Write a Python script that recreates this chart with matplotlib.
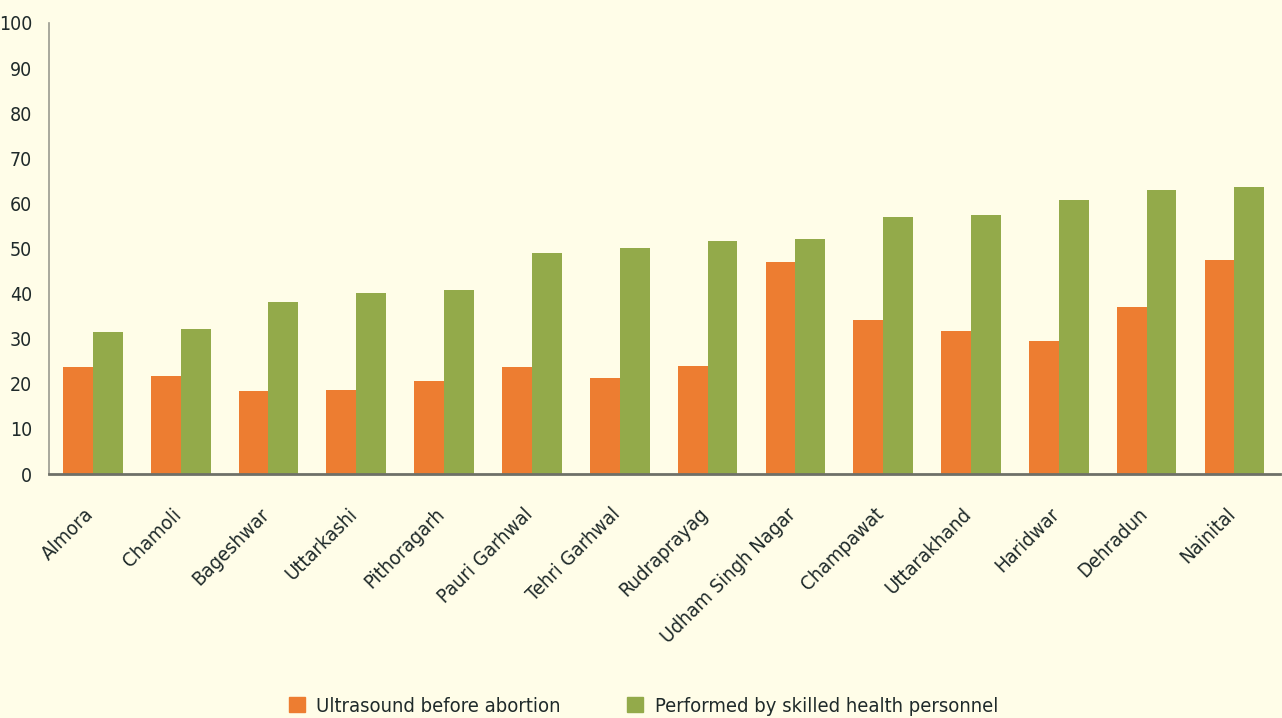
import numpy as np
import matplotlib
matplotlib.use("Agg")
import matplotlib.pyplot as plt
import matplotlib.transforms as mtransforms
from matplotlib import font_manager
from matplotlib.patches import Patch

districts = ["Almora", "Chamoli", "Bageshwar", "Uttarkashi", "Pithoragarh",
             "Pauri Garhwal", "Tehri Garhwal", "Rudraprayag", "Udham Singh Nagar",
             "Champawat", "Uttarakhand", "Haridwar", "Dehradun", "Nainital"]
ultrasound = [23.7, 21.7, 18.4, 18.6, 20.6, 23.7, 21.3, 23.9, 47.0, 34.1, 31.7, 29.5, 37.0, 47.5]
skilled = [31.5, 32.2, 38.1, 40.1, 40.8, 49.0, 50.1, 51.7, 52.1, 57.0, 57.4, 60.8, 63.0, 63.6]
series_names = ["Ultrasound before abortion", "Performed by skilled health personnel"]
yticks = list(range(0, 101, 10))

BG = "#FFFDE8"
ORANGE = "#ED7D31"
GREEN = "#93AA4A"
TEXT = "#1F2A2A"

## pick a narrow font if one is installed, otherwise Liberation Sans
narrow = None
for f in font_manager.fontManager.ttflist:
    n = (f.fname + f.name).lower()
    if ('narrow' in n or 'condensed' in n) and 'bold' not in n and 'oblique' not in n and 'italic' not in n:
        narrow = f
        break
if narrow is not None:
    fname = narrow.fname
    sizes = (14, 14.5, 14.5)
else:
    fname = font_manager.findfont(font_manager.FontProperties(family='Liberation Sans'))
    sizes = (12, 13, 13)

def fprop(size):
    return font_manager.FontProperties(fname=fname, size=size)

fig = plt.figure(figsize=(12.82, 7.18), dpi=100, facecolor=BG)
ax = fig.add_axes([0.0382, 0.3398, 0.9603, 0.6282], facecolor=BG)

x = np.arange(len(districts))
w = 0.34
ax.bar(x - w / 2, ultrasound, w, color=ORANGE, zorder=2)
ax.bar(x + w / 2, skilled, w, color=GREEN, zorder=2)

ax.set_xlim(-0.5, len(districts) - 0.48)
ax.set_ylim(0, 100)
ax.set_yticks(yticks)
ax.set_yticklabels([str(t) for t in yticks], fontproperties=fprop(sizes[0]), color=TEXT)
ax.set_xticks(x)
ax.set_xticklabels(districts, rotation=45, ha='right', rotation_mode='anchor',
                   fontproperties=fprop(sizes[1]), color=TEXT)
ax.tick_params(axis='both', length=0)
ax.tick_params(axis='y', pad=12)
ax.tick_params(axis='x', pad=22)
shift = mtransforms.ScaledTranslation(-9 / 100, 0, fig.dpi_scale_trans)
for lab in ax.get_xticklabels():
    lab.set_transform(lab.get_transform() + shift)

for s in ['top', 'right']:
    ax.spines[s].set_visible(False)
ax.spines['left'].set_color('#9A9A90')
ax.spines['left'].set_linewidth(1.2)
ax.spines['bottom'].set_color('#6E7068')
ax.spines['bottom'].set_linewidth(2)
ax.spines['bottom'].set_zorder(3)

handles = [Patch(color=ORANGE), Patch(color=GREEN)]
fig.legend(handles, series_names, loc='lower center', bbox_to_anchor=(0.502, -0.022),
           ncol=2, frameon=False, prop=fprop(sizes[2]), handlelength=0.8, handleheight=0.8,
           columnspacing=3.3, handletextpad=0.55, labelcolor=TEXT)

fig.savefig("out.png", dpi=100, facecolor=BG)
